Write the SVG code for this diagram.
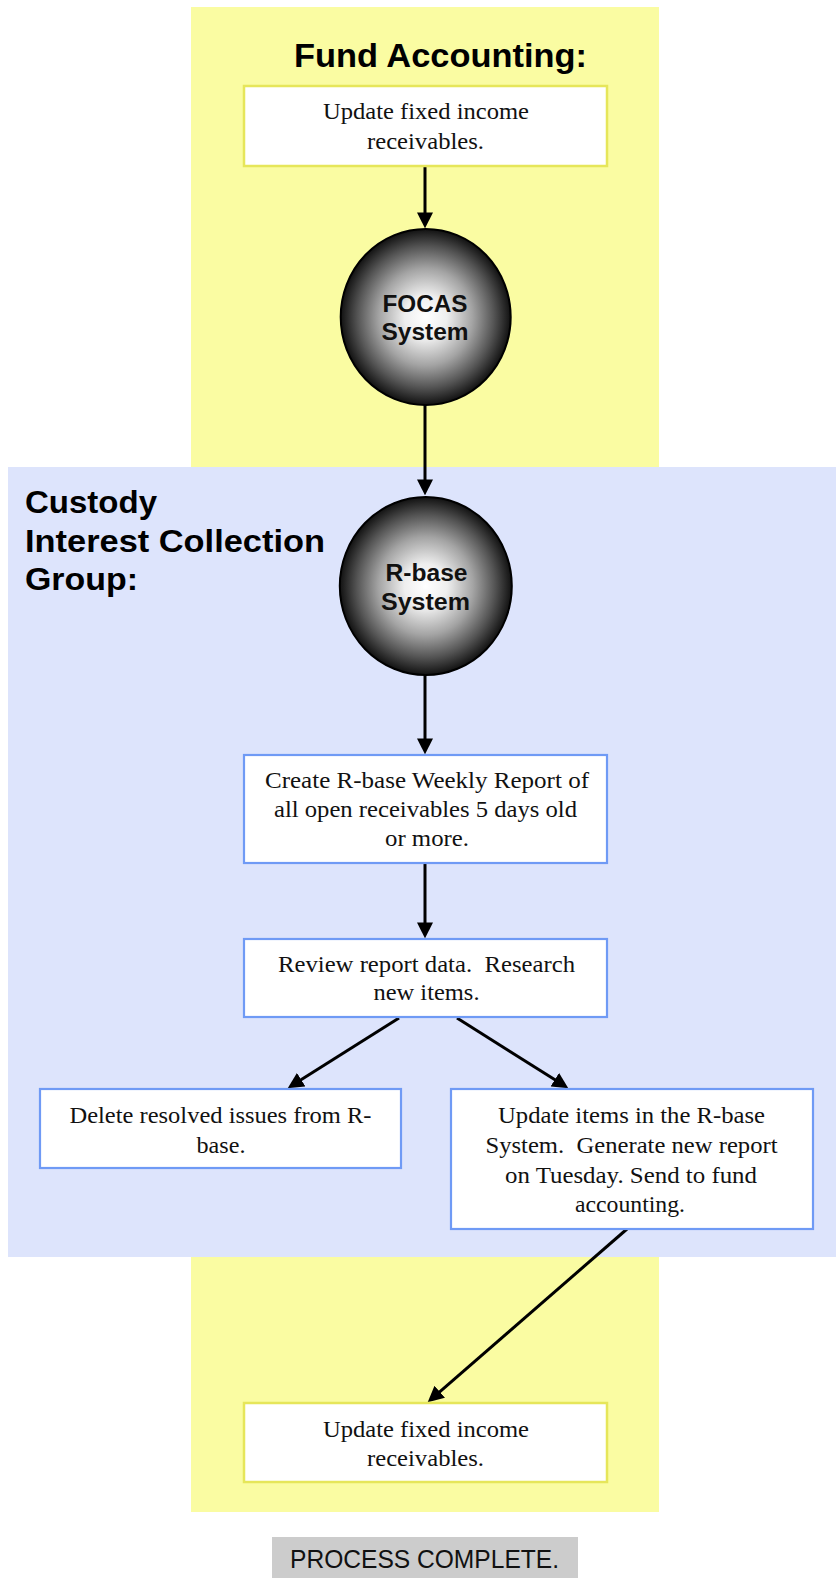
<svg xmlns="http://www.w3.org/2000/svg" width="836" height="1578" viewBox="0 0 836 1578">
  <style>
    .lane-fa { fill: #fafca2; }
    .lane-cic { fill: #dde4fc; }
    .box-y { fill: #ffffff; stroke: #e6e65a; stroke-width: 2.5; }
    .box-b { fill: #ffffff; stroke: #6f9af5; stroke-width: 2.2; }
    .txt { font-family: "Liberation Serif", "Times New Roman", serif; font-size: 23px; fill: #111111; text-anchor: middle; white-space: pre; }
    .title { font-family: "Liberation Sans", Arial, sans-serif; font-weight: bold; fill: #000000; }
    .sys { font-family: "Liberation Sans", Arial, sans-serif; font-weight: bold; font-size: 23px; fill: #111111; text-anchor: middle; }
    .orb { stroke: #000000; stroke-width: 2; }
    .conn { stroke: #000000; stroke-width: 3; fill: none; marker-end: url(#arrow); }
    .done-bg { fill: #cccccc; }
    .done-txt { font-family: "Liberation Sans", Arial, sans-serif; font-size: 25px; fill: #111111; text-anchor: middle; }
  </style>
  <defs>
    <radialGradient id="orbShade" cx="50%" cy="50%" r="50%">
      <stop offset="0" stop-color="#ffffff"/>
      <stop offset="0.25" stop-color="#eeeeee"/>
      <stop offset="0.55" stop-color="#a4a4a4"/>
      <stop offset="0.8" stop-color="#555555"/>
      <stop offset="1" stop-color="#111111"/>
    </radialGradient>
    <marker id="arrow" markerUnits="userSpaceOnUse" markerWidth="16" markerHeight="16" viewBox="0 0 15 15" refX="9" refY="7.5" orient="auto">
      <path d="M0,0 L15,7.5 L0,15 Z" fill="#000000"/>
    </marker>
  </defs>

  <!-- swim lanes -->
  <g id="lane-fund-accounting">
    <rect class="lane-fa" x="191" y="7" width="468" height="1505"/>
  </g>
  <g id="lane-custody">
    <rect class="lane-cic" x="8" y="467" width="828" height="790"/>
  </g>

  <!-- lane titles -->
  <g id="title-fund-accounting">
    <text class="title" x="294" y="67" font-size="33" textLength="293" lengthAdjust="spacingAndGlyphs">Fund Accounting:</text>
  </g>
  <g id="title-custody">
    <text class="title" x="25" y="513" font-size="31" textLength="132" lengthAdjust="spacingAndGlyphs">Custody</text>
    <text class="title" x="25" y="552" font-size="31" textLength="300" lengthAdjust="spacingAndGlyphs">Interest Collection</text>
    <text class="title" x="25" y="590" font-size="31" textLength="113" lengthAdjust="spacingAndGlyphs">Group:</text>
  </g>

  <!-- connectors -->
  <g id="connectors">
    <line class="conn" x1="425" y1="166" x2="425" y2="222"/>
    <line class="conn" x1="425" y1="405" x2="425" y2="489"/>
    <line class="conn" x1="425" y1="675" x2="425" y2="748"/>
    <line class="conn" x1="425" y1="863" x2="425" y2="932"/>
    <line class="conn" x1="399" y1="1018" x2="293.1" y2="1084.8"/>
    <line class="conn" x1="457" y1="1018" x2="562.9" y2="1084.8"/>
    <line class="conn" x1="627" y1="1229" x2="432.5" y2="1398.1"/>
  </g>

  <!-- nodes -->
  <g id="node-update-receivables-start">
    <rect class="box-y" x="244" y="86" width="363" height="80"/>
    <text class="txt" x="426" y="119" textLength="206" lengthAdjust="spacingAndGlyphs">Update fixed income</text>
    <text class="txt" x="425.5" y="149" textLength="117" lengthAdjust="spacingAndGlyphs">receivables.</text>
  </g>

  <g id="node-focas">
    <ellipse class="orb" cx="425.7" cy="317" rx="85" ry="88" fill="url(#orbShade)"/>
    <text class="sys" x="425" y="312" textLength="85" lengthAdjust="spacingAndGlyphs">FOCAS</text>
    <text class="sys" x="425" y="340" textLength="87" lengthAdjust="spacingAndGlyphs">System</text>
  </g>

  <g id="node-rbase">
    <ellipse class="orb" cx="425.8" cy="586" rx="86" ry="89" fill="url(#orbShade)"/>
    <text class="sys" x="426.5" y="581" textLength="82" lengthAdjust="spacingAndGlyphs">R-base</text>
    <text class="sys" x="425.5" y="610" textLength="89" lengthAdjust="spacingAndGlyphs">System</text>
  </g>

  <g id="node-weekly-report">
    <rect class="box-b" x="244" y="755" width="363" height="108"/>
    <text class="txt" x="427" y="788" textLength="324" lengthAdjust="spacingAndGlyphs">Create R-base Weekly Report of</text>
    <text class="txt" x="425.5" y="817" textLength="303" lengthAdjust="spacingAndGlyphs">all open receivables 5 days old</text>
    <text class="txt" x="427" y="846" textLength="84" lengthAdjust="spacingAndGlyphs">or more.</text>
  </g>

  <g id="node-review">
    <rect class="box-b" x="244" y="939" width="363" height="78"/>
    <text class="txt" x="426.5" y="972" textLength="297" lengthAdjust="spacingAndGlyphs">Review report data.  Research</text>
    <text class="txt" x="426.5" y="1000" textLength="106" lengthAdjust="spacingAndGlyphs">new items.</text>
  </g>

  <g id="node-delete-resolved">
    <rect class="box-b" x="40" y="1089" width="361" height="79"/>
    <text class="txt" x="220.5" y="1123" textLength="302" lengthAdjust="spacingAndGlyphs">Delete resolved issues from R-</text>
    <text class="txt" x="221" y="1153" textLength="49" lengthAdjust="spacingAndGlyphs">base.</text>
  </g>

  <g id="node-update-rbase">
    <rect class="box-b" x="451" y="1089" width="362" height="140"/>
    <text class="txt" x="631.5" y="1123" textLength="267" lengthAdjust="spacingAndGlyphs">Update items in the R-base</text>
    <text class="txt" x="631.5" y="1153" textLength="292" lengthAdjust="spacingAndGlyphs">System.  Generate new report</text>
    <text class="txt" x="631" y="1183" textLength="252" lengthAdjust="spacingAndGlyphs">on Tuesday. Send to fund</text>
    <text class="txt" x="630" y="1212" textLength="110" lengthAdjust="spacingAndGlyphs">accounting.</text>
  </g>

  <g id="node-update-receivables-end">
    <rect class="box-y" x="244" y="1403" width="363" height="79"/>
    <text class="txt" x="426" y="1437" textLength="206" lengthAdjust="spacingAndGlyphs">Update fixed income</text>
    <text class="txt" x="425.5" y="1466" textLength="117" lengthAdjust="spacingAndGlyphs">receivables.</text>
  </g>

  <g id="node-process-complete">
    <rect class="done-bg" x="272" y="1537" width="306" height="41"/>
    <text class="done-txt" x="424.5" y="1568" textLength="269" lengthAdjust="spacingAndGlyphs">PROCESS COMPLETE.</text>
  </g>
</svg>
